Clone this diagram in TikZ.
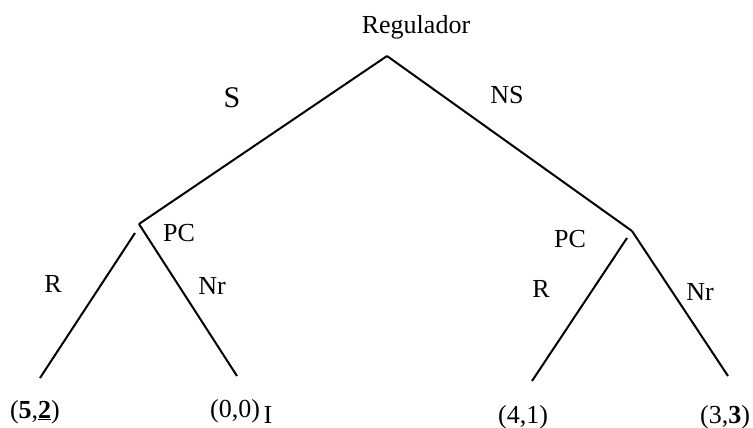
\documentclass[tikz,border=0pt]{standalone}
\usepackage{fontspec}
\setmainfont{Liberation Serif}
\begin{document}
\begin{tikzpicture}[x=1pt,y=-1pt,
  edge/.style={line width=2pt},
  lbl/.style={anchor=base,inner sep=0pt,font=\fontsize{26}{30}\selectfont},
  biglbl/.style={anchor=base,inner sep=0pt,font=\fontsize{30}{34}\selectfont}]
\useasboundingbox (0,0) rectangle (753,428);
% tree points
\coordinate (root) at (387,56);
\coordinate (L) at (139,224);
\coordinate (Ls) at (135,233);
\coordinate (R) at (632,231);
\coordinate (Rs) at (627,238);
\coordinate (LL) at (40,378);
\coordinate (LR) at (237,376);
\coordinate (RL) at (532,381);
\coordinate (RR) at (728,376);
% edges
\draw[edge] (root) -- (L);
\draw[edge] (root) -- (R);
\draw[edge] (Ls) -- (LL);
\draw[edge] (L) -- (LR);
\draw[edge] (Rs) -- (RL);
\draw[edge] (R) -- (RR);
% labels
\node[lbl] (reg) at (416,34) {Regulador};
\node[biglbl] (s) at (232,107) {S};
\node[lbl] (ns) at (507,103) {NS};
\node[lbl] (pcl) at (179,241) {PC};
\node[lbl] (rl) at (53,292) {R};
\node[lbl] (nrl) at (212,294) {Nr};
\node[lbl] (pcr) at (570,247) {PC};
\node[lbl] (rr) at (541,297) {R};
\node[lbl] (nrr) at (700,300) {Nr};
% payoffs
\node[lbl] (p1) at (35,418) {(\textbf{5},\textbf{\underline{2}})};
\node[lbl] (p2) at (235,417) {(0,0)};
\node[lbl] (p2i) at (268,423) {I};
\node[lbl] (p3) at (523,423) {(4,1)};
\node[lbl] (p4) at (725,423) {(3,\textbf{3})};
\end{tikzpicture}
\end{document}
